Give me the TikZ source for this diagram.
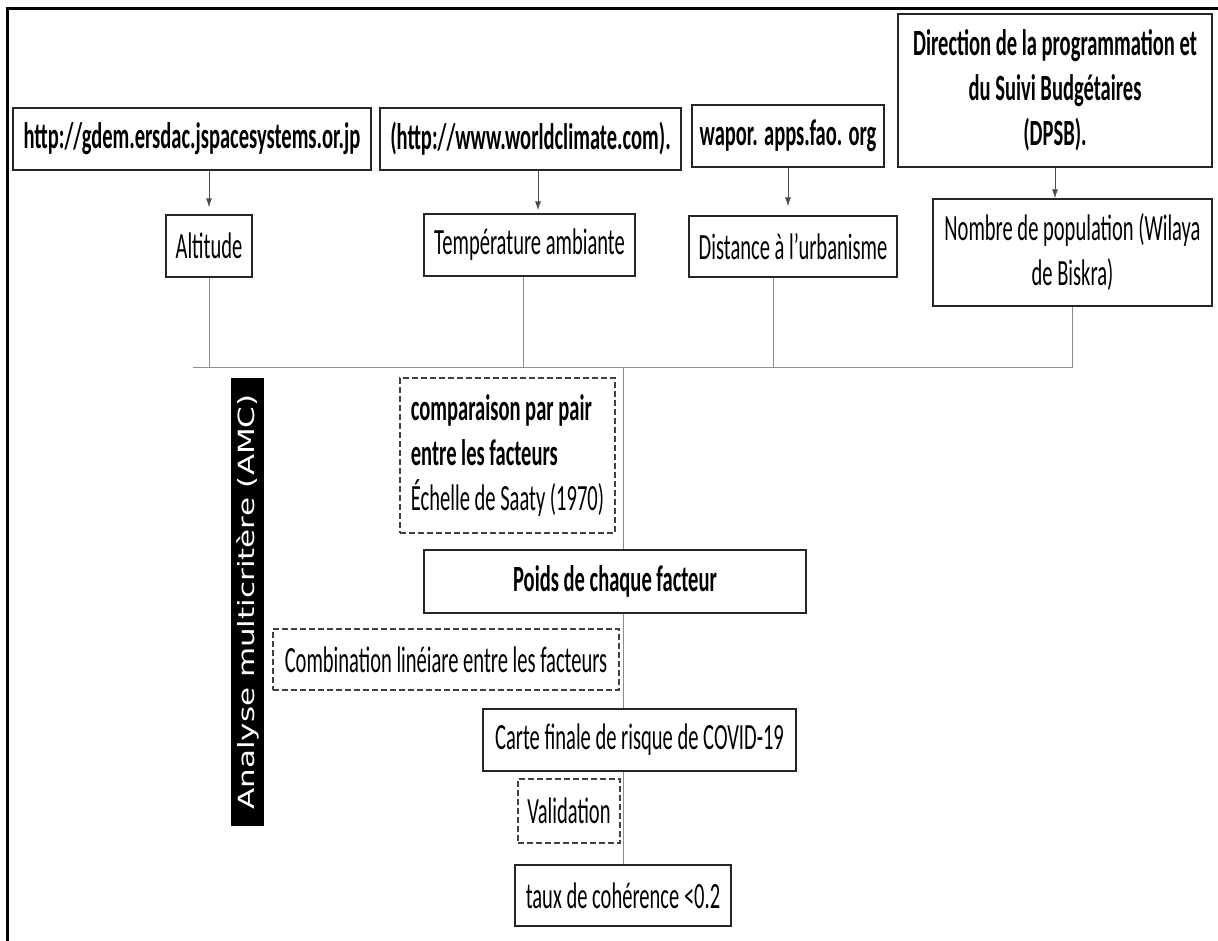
\documentclass[tikz,border=0pt]{standalone}
\usepackage{fontspec}
\setmainfont{Carlito}[FakeStretch=0.555]
\newfontfamily\amcfont{DejaVu Sans}
\usetikzlibrary{arrows.meta}
\begin{document}
\begin{tikzpicture}[x=1pt,y=-1pt,
  box/.style={draw=black!85, line width=1.3pt, inner sep=0pt, align=center,
    font=\fontsize{37}{45}\selectfont},
  dbox/.style={box, draw=black!75, line width=1.1pt, dash pattern=on 6pt off 3pt},
  wire/.style={draw=black!45, line width=0.9pt},
  arr/.style={draw=black!70, line width=0.9pt, -{Latex[length=9pt,width=6pt]}}]
\useasboundingbox (0,0) rectangle (1218,940);
% frame
\draw[line width=3pt] (7,941) -- (7,8) -- (1219,8);
% sources
\node[box, minimum width=358pt, minimum height=62pt] (gdem) at (192,139)
  {\bfseries http://gdem.ersdac.jspacesystems.or.jp};
\node[box, minimum width=301pt, minimum height=62pt] (world) at (530.5,139)
  {\bfseries (http://www.worldclimate.com).};
\node[box, minimum width=192pt, minimum height=62pt] (wapor) at (788,136)
  {\bfseries wapor. apps.fao. org};
\node[box, minimum width=314pt, minimum height=153pt] (dpsb) at (1055,90.5)
  {\bfseries Direction de la programmation et\\ \bfseries du Suivi Budgétaires\\ \bfseries (DPSB).};
% factors
\node[box, minimum width=86pt, minimum height=62pt] (alt) at (209,246) {Altitude};
\node[box, minimum width=211pt, minimum height=62pt] (temp) at (529.5,245) {Température ambiante};
\node[box, minimum width=208pt, minimum height=61pt] (dist) at (793,246.5) {Distance à l’urbanisme};
\node[box, minimum width=279pt, minimum height=107pt] (nomb) at (1072.5,252.5)
  {Nombre de population (Wilaya\\ de Biskra)};
% AMC band
\node[fill=black, minimum width=33pt, minimum height=448pt, inner sep=0pt, text=white] (amc) at (247.5,602)
  {\rotatebox{90}{\scalebox{1}[0.72]{\amcfont\fontsize{31}{31}\selectfont Analyse multicritère (AMC)}}};
% process
\node[dbox, minimum width=215pt, minimum height=155pt, align=left] (comp) at (507.5,455.5)
  {\bfseries comparaison par pair\\ \bfseries entre les facteurs\\ Échelle de Saaty (1970)};
\node[box, minimum width=382pt, minimum height=63pt] (poids) at (615,581.5)
  {\bfseries Poids de chaque facteur};
\node[dbox, minimum width=346pt, minimum height=61pt] (comb) at (446,659.5)
  {Combination linéiare entre les facteurs};
\node[box, minimum width=313pt, minimum height=62pt] (carte) at (639.5,740)
  {Carte finale de risque de COVID-19};
\node[dbox, minimum width=102pt, minimum height=64pt] (valid) at (569,811) {Validation};
\node[box, minimum width=216pt, minimum height=61pt] (taux) at (623,895.5)
  {taux de cohérence <0.2};
% arrows from sources
\coordinate (a1) at ([yshift=7pt]alt.north);
\draw[arr] (a1 |- gdem.south) -- (a1);
\coordinate (a2) at ([xshift=8.5pt,yshift=3pt]temp.north);
\draw[arr] (a2 |- world.south) -- (a2);
\coordinate (a3) at ([yshift=9pt]wapor.south |- dist.north);
\draw[arr] (wapor.south) -- (a3);
\coordinate (a4) at (dpsb.south |- nomb.north);
\draw[arr] (dpsb.south) -- (a4);
% bus
\coordinate (busL) at (193,367);
\coordinate (busR) at (nomb.south |- busL);
\draw[wire] (busL) -- (busR);
\draw[wire] (alt.south) -- (alt.south |- busL);
\coordinate (l2) at ([xshift=-6.5pt]temp.south);
\draw[wire] (l2) -- (l2 |- busL);
\coordinate (l3) at ([xshift=-20pt]dist.south);
\draw[wire] (l3) -- (l3 |- busL);
\draw[wire] (nomb.south) -- (busR);
% central line
\coordinate (cx) at (623,367);
\draw[wire] (cx) -- (cx |- poids.north);
\draw[wire] (cx |- poids.south) -- (cx |- carte.north);
\draw[wire] (taux.north |- carte.south) -- (taux.north);
\end{tikzpicture}
\end{document}
